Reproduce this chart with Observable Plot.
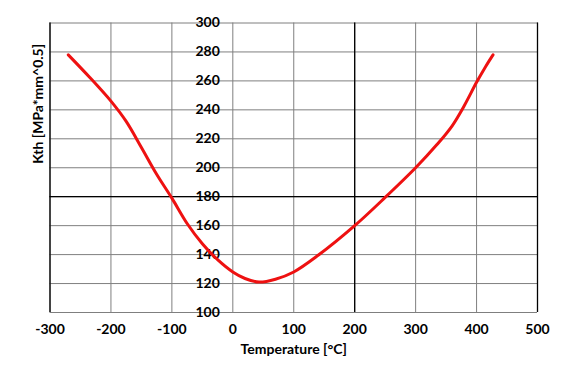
<!DOCTYPE html>
<html>
<head>
<meta charset="utf-8">
<script src="https://cdn.jsdelivr.net/npm/d3@7"></script>
<script src="https://cdn.jsdelivr.net/npm/@observablehq/plot@0.6"></script>
<style>
  html, body { margin: 0; padding: 0; background: #fff; }
  #chart { width: 585px; height: 375px; }
</style>
</head>
<body>
<div id="chart"></div>
<script>
// Curve readings: temperature (°C) and Kth (MPa*mm^0.5)
const temperature = [-270, -235, -200, -175, -150, -125, -100, -75, -50, -25, 0, 20, 43, 70, 100, 140, 200, 250, 300, 335, 360, 380, 400, 415, 427];
const kth =         [278,  262.5, 246, 232,  214,  195.5, 179, 161.5, 147.5, 136.5, 128, 123.5, 121, 123, 128, 139.5, 160, 179.5, 200, 216, 229, 243, 259, 270, 278];
// Axis ticks
const xTicks = [-300, -200, -100, 0, 100, 200, 300, 400, 500];
const yTicks = [100, 120, 140, 160, 180, 200, 220, 240, 260, 280, 300];
const xBlack = [-300, 200, 500];
const yBlack = [180];
const xLabel = "Temperature [°C]";
const yLabel = "Kth [MPa*mm^0.5]";

const data = temperature.map((t, i) => ({t, k: kth[i]}));

const font = "Lato, 'Open Sans', sans-serif";

const chart = Plot.plot({
  width: 585,
  height: 375,
  marginLeft: 49.5,
  marginRight: 48,
  marginTop: 22.5,
  marginBottom: 63,
  style: {fontFamily: font, fontSize: "14px", fontWeight: "bold", color: "#000", background: "#fff"},
  x: {domain: [-300, 500], ticks: xTicks, label: null},
  y: {domain: [100, 300], ticks: yTicks, label: null, axis: null},
  marks: [
    Plot.ruleX(xTicks, {stroke: "#7f7f7f", strokeWidth: 1}),
    Plot.ruleY(yTicks, {stroke: "#7f7f7f", strokeWidth: 1}),
    Plot.ruleX(xBlack, {stroke: "#000", strokeWidth: 1.3}),
    Plot.ruleY(yBlack, {stroke: "#000", strokeWidth: 1.3}),
    Plot.axisX(xTicks, {tickSize: 0, tickPadding: 12, fontSize: 14, fontWeight: "bold", label: null, tickFormat: d => String(d)}),
    Plot.text(yTicks, {x: 0, y: d => d, text: d => String(d), textAnchor: "end", dx: -13, fontSize: 14, fontWeight: "bold", fill: "#000"}),
    Plot.line(data, {x: "t", y: "k", stroke: "#ee1111", strokeWidth: 3, curve: "catmull-rom"}),
    Plot.text([xLabel], {frameAnchor: "bottom", dy: 41, text: d => d, fontSize: 14, fontWeight: "bold", fill: "#000"}),
    Plot.text([yLabel], {frameAnchor: "left", dx: -11, dy: -4, rotate: -90, text: d => d, fontSize: 14, fontWeight: "bold", fill: "#000"})
  ]
});
document.getElementById("chart").appendChild(chart);
</script>
</body>
</html>
